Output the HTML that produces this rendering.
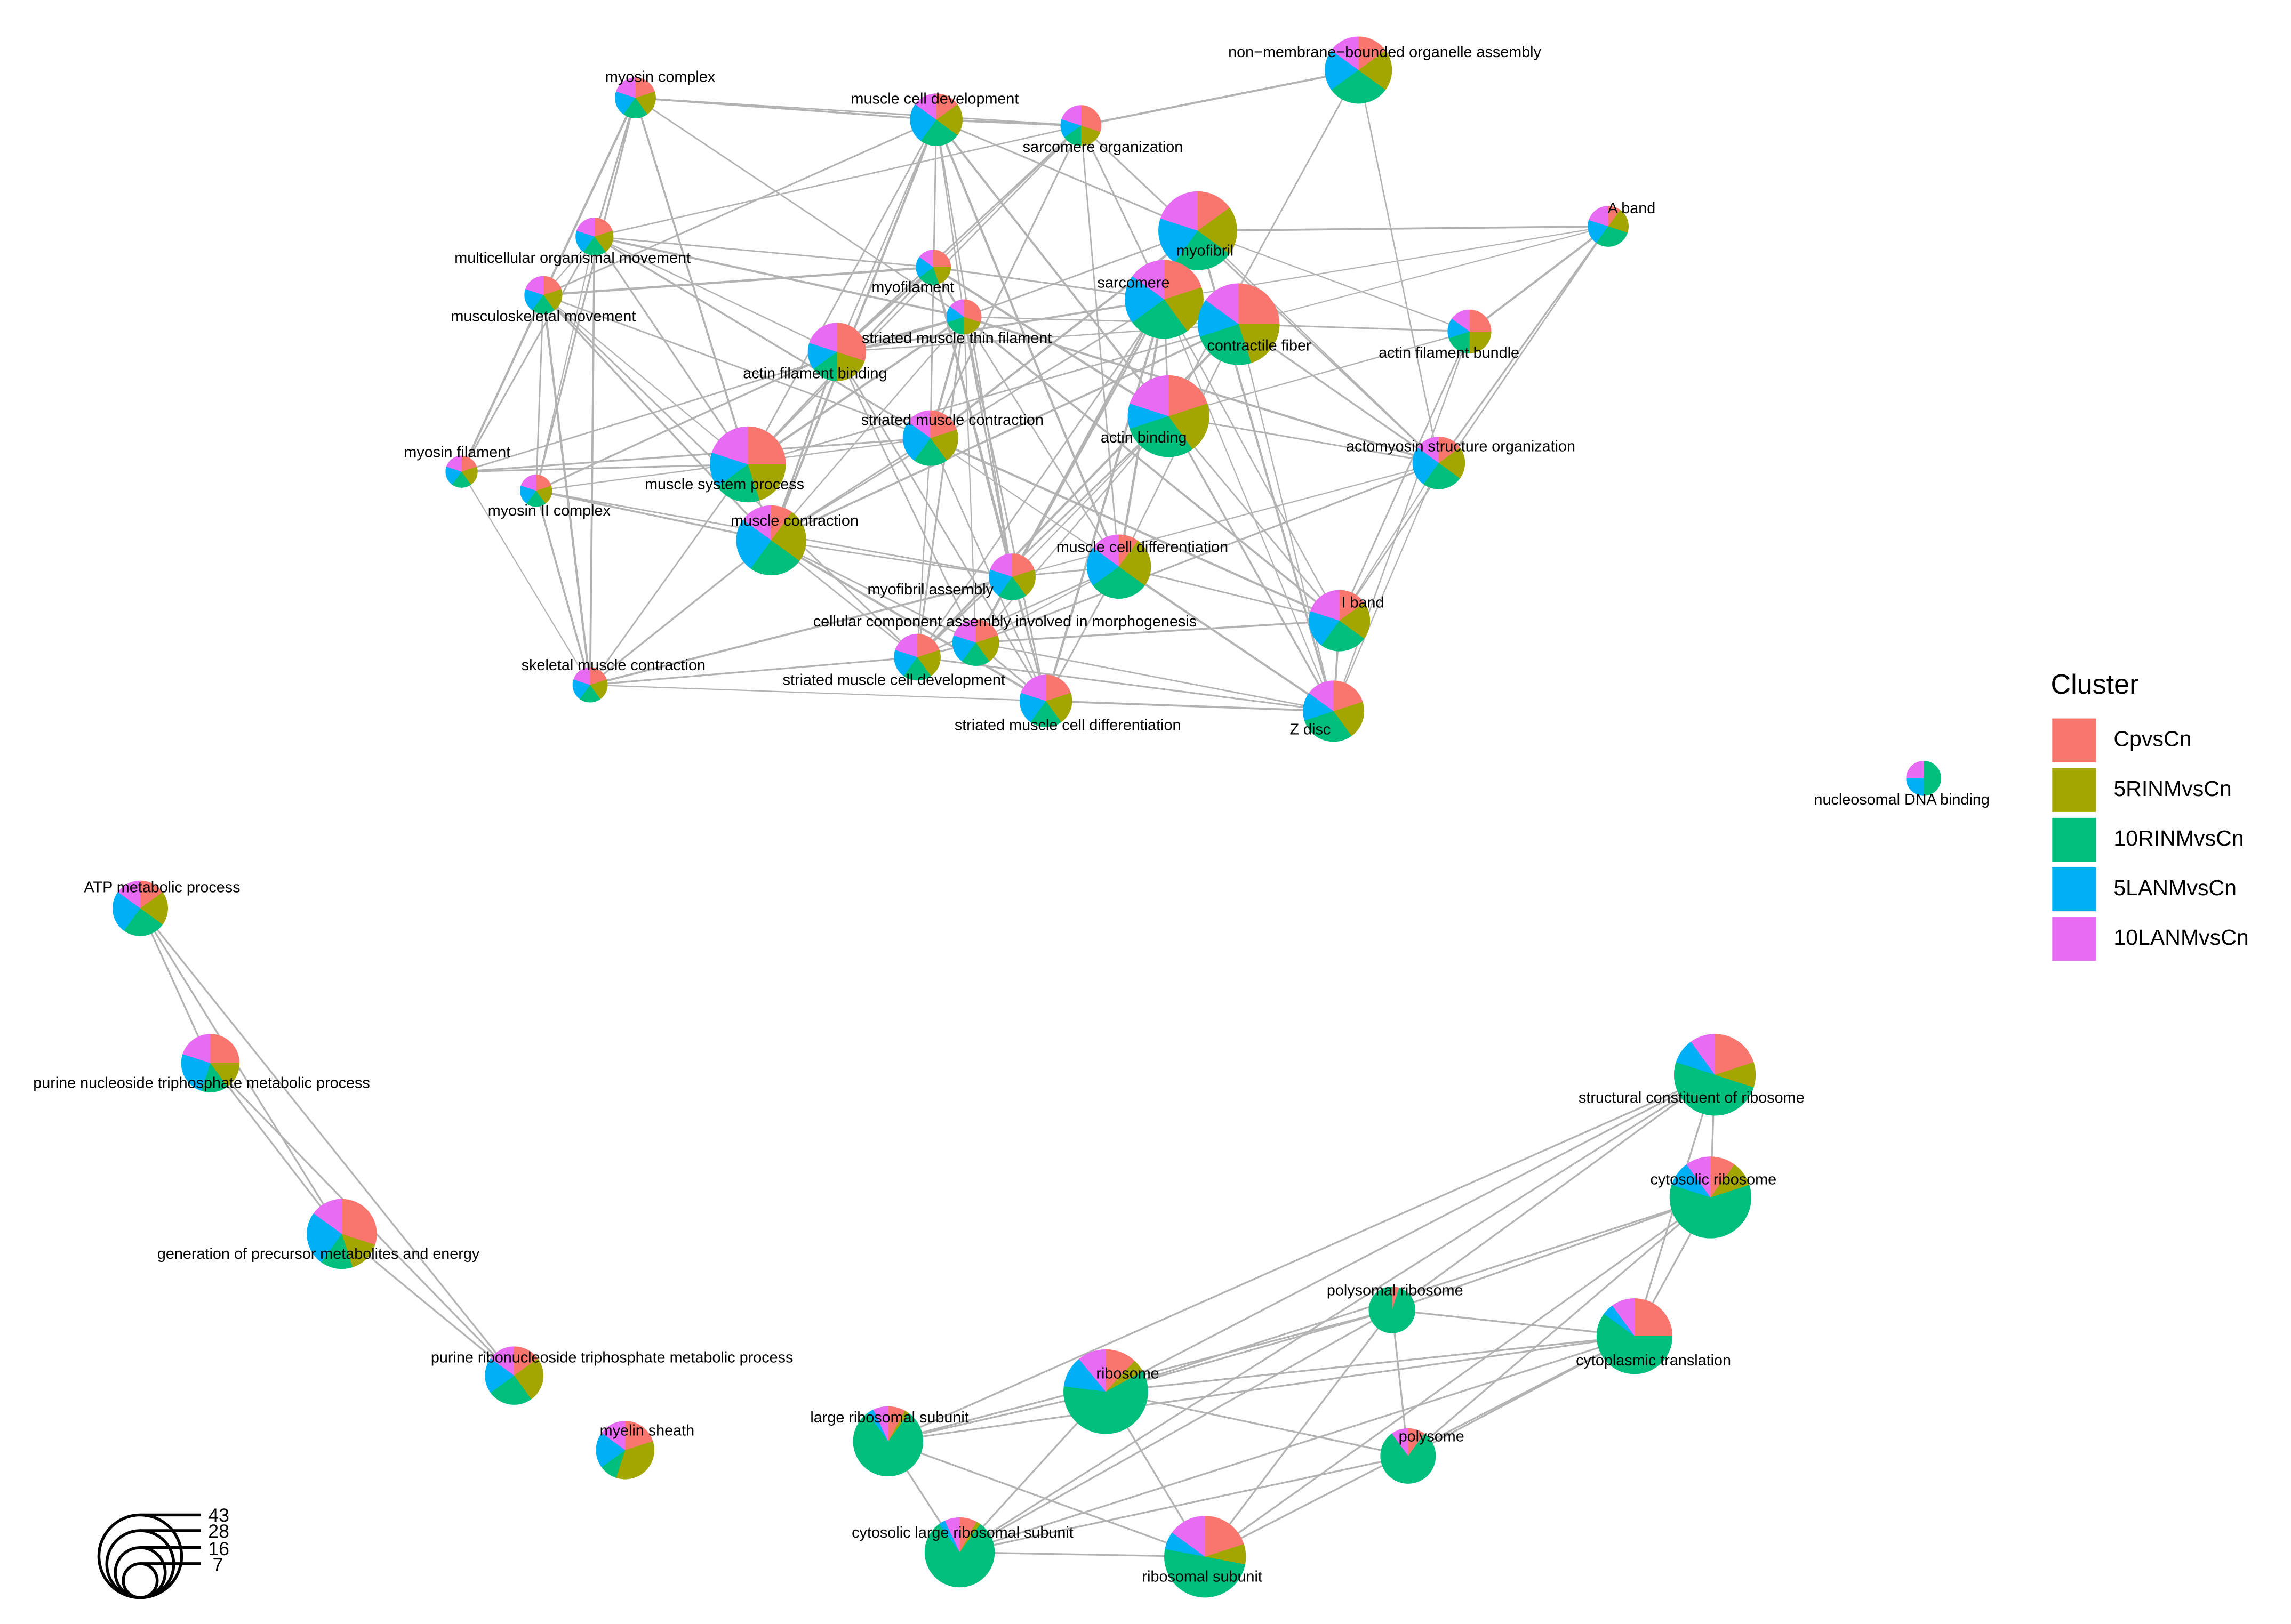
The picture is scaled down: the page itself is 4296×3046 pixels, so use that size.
<!DOCTYPE html>
<html><head><meta charset="utf-8"><style>
html,body{margin:0;padding:0;background:#fff;}
#wrap{position:absolute;left:0;top:0;width:1570px;height:1112px;transform:scale(2.739);transform-origin:0 0;font-family:"Liberation Sans",sans-serif;overflow:hidden;}
.n{position:absolute;border-radius:50%;}
.l{position:absolute;font-size:10.5px;color:#000;white-space:nowrap;transform:translate(-50%,-50%);}
svg{position:absolute;left:0;top:0;}
</style></head><body><div id="wrap">
<svg id="edges" width="1570" height="1112"></svg>
<div id="nodes"></div>
<div style="position:absolute;left:1404px;top:459px;font-size:19px">Cluster</div>
<div style="position:absolute;left:1405px;top:492px;width:30px;height:30px;background:#F8766D"></div>
<div style="position:absolute;left:1405px;top:526px;width:30px;height:30px;background:#A3A500"></div>
<div style="position:absolute;left:1405px;top:560px;width:30px;height:30px;background:#00BF7D"></div>
<div style="position:absolute;left:1405px;top:594px;width:30px;height:30px;background:#00B0F6"></div>
<div style="position:absolute;left:1405px;top:628px;width:30px;height:30px;background:#E76BF3"></div>
<div style="position:absolute;left:1447px;top:498px;font-size:15px">CpvsCn</div>
<div style="position:absolute;left:1447px;top:532px;font-size:15px">5RINMvsCn</div>
<div style="position:absolute;left:1447px;top:566px;font-size:15px">10RINMvsCn</div>
<div style="position:absolute;left:1447px;top:600px;font-size:15px">5LANMvsCn</div>
<div style="position:absolute;left:1447px;top:634px;font-size:15px">10LANMvsCn</div>
<svg width="1570" height="1112" style="pointer-events:none">
<g transform="translate(0.5,6)">
<g fill="none" stroke="#000" stroke-width="2">
<circle cx="95.5" cy="1059.7" r="28.3"/><circle cx="95.5" cy="1065.1" r="22.9"/><circle cx="95.5" cy="1070.9" r="17.1"/><circle cx="95.5" cy="1076.4" r="11.6"/>
<line x1="95.5" y1="1031.4" x2="137" y2="1031.4"/><line x1="95.5" y1="1042.2" x2="137" y2="1042.2"/><line x1="95.5" y1="1053.8" x2="137" y2="1053.8"/><line x1="95.5" y1="1064.8" x2="137" y2="1064.8"/>
</g>
<g font-size="13" font-family="Liberation Sans,sans-serif"><text x="142" y="1036">43</text><text x="142" y="1047">28</text><text x="142" y="1059">16</text><text x="145" y="1070">7</text></g>
</g>
</svg>
</div>
<script>
var C=['#F8766D','#A3A500','#00BF7D','#00B0F6','#E76BF3'];
var N=[
['myosin complex',435,67,14,452,53,[.2,.2,.2,.2,.2],0],
['muscle cell development',641,82,18,640,68,[.15,.2,.25,.25,.15],0],
['sarcomere organization',740,86,14,755,101,[.3,.2,.15,.15,.2],0],
['non\u2212membrane\u2212bounded organelle assembly',930,48,23,948,36,[.15,.2,.3,.2,.15],0],
['myofibril',820,158,27,825,172,[.15,.2,.25,.2,.2],0],
['A band',1101,155,14,1117,143,[.1,.2,.3,.2,.2],0],
['multicellular organismal movement',407,162,13,392,177,[.2,.2,.2,.2,.2],0],
['musculoskeletal movement',372,202,13,372,217,[.2,.2,.2,.2,.2],0],
['myofilament',639,183,12,625,197,[.25,.2,.2,.2,.15],0],
['sarcomere',797,205,27,776,194,[.2,.2,.25,.2,.15],0],
['striated muscle thin filament',660,217,12,655,232,[.3,.2,.2,.15,.15],0],
['contractile fiber',848,222,28,862,237,[.25,.2,.25,.15,.15],0],
['actin filament bundle',1006,227,15,992,242,[.25,.25,.2,.15,.15],0],
['actin filament binding',573,241,20,558,256,[.3,.2,.15,.15,.2],0],
['striated muscle contraction',637,300,19,652,288,[.2,.2,.2,.25,.15],0],
['actin binding',800,285,28,783,300,[.2,.2,.3,.1,.2],0],
['actomyosin structure organization',985,317,18,1000,306,[.15,.2,.25,.25,.15],0],
['myosin filament',316,323,11,313,310,[.2,.2,.2,.2,.2],0],
['muscle system process',512,318,26,496,332,[.25,.2,.2,.15,.2],0],
['myosin II complex',367,336,11,376,350,[.2,.2,.2,.2,.2],0],
['muscle contraction',528,370,24,544,357,[.1,.25,.25,.25,.15],0],
['muscle cell differentiation',766,388,22,782,375,[.1,.25,.3,.2,.15],0],
['myofibril assembly',693,395,16,637,404,[.2,.2,.2,.2,.2],0],
['cellular component assembly involved in morphogenesis',668,440,16,688,426,[.2,.2,.2,.2,.2],0],
['I band',917,425,21,933,413,[.15,.2,.25,.2,.2],0],
['striated muscle cell development',628,450,16,612,466,[.2,.2,.2,.2,.2],0],
['skeletal muscle contraction',404,469,12,420,456,[.2,.2,.2,.2,.2],0],
['striated muscle cell differentiation',716,480,18,731,497,[.2,.2,.2,.2,.2],0],
['Z disc',913,487,21,897,500,[.2,.2,.3,.15,.15],0],
['nucleosomal DNA binding',1317,533,12,1302,548,[0,0,.5,.25,.25],1],
['ATP metabolic process',96,622,19,111,608,[.15,.2,.25,.25,.15],2],
['purine nucleoside triphosphate metabolic process',144,728,20,138,742,[.25,.15,.15,.25,.2],2],
['generation of precursor metabolites and energy',234,845,24,218,859,[.3,.15,.15,.25,.15],2],
['purine ribonucleoside triphosphate metabolic process',352,942,20,419,930,[.15,.25,.25,.2,.15],2],
['myelin sheath',428,993,20,443,980,[.2,.35,.1,.2,.15],3],
['structural constituent of ribosome',1174,736,28,1158,752,[.2,.1,.5,.1,.1],4],
['cytosolic ribosome',1171,820,28,1173,808,[.1,.1,.6,.1,.1],4],
['polysomal ribosome',953,897,16,955,884,[.05,0,.95,0,0],4],
['cytoplasmic translation',1119,915,26,1132,932,[.25,0,.6,.05,.1],4],
['ribosome',757,953,29,772,941,[.12,.05,.6,.12,.11],4],
['large ribosomal subunit',608,987,24,609,971,[.08,.02,.8,.03,.07],4],
['polysome',964,997,19,980,984,[.1,0,.8,0,.1],4],
['cytosolic large ribosomal subunit',657,1063,24,659,1050,[.08,.02,.8,.03,.07],4],
['ribosomal subunit',825,1066,28,823,1080,[.2,.08,.5,.07,.15],4]
];
var svg=document.getElementById('edges'),h='';
function ln(a,b,w){h+='<line x1="'+a[1]+'" y1="'+a[2]+'" x2="'+b[1]+'" y2="'+b[2]+'" stroke="#b3b3b3" stroke-width="'+w+'"/>';}
var seed=7;function rnd(){seed=(seed*9301+49297)%233280;return seed/233280;}
for(var i=0;i<N.length;i++)for(var j=i+1;j<N.length;j++){
 var a=N[i],b=N[j];if(a[7]!=b[7])continue;
 var d=Math.hypot(a[1]-b[1],a[2]-b[2]);
 if(a[7]==0){ if(d<360&&rnd()<0.55)ln(a,b,0.8+rnd()*0.8);}
 else if(a[7]==2||a[7]==4){ if(rnd()<0.8)ln(a,b,1.2);}
}
svg.innerHTML=h;
var nh='';
N.forEach(function(n){var f=n[6],acc=0,st=[];for(var k=0;k<5;k++){var s=acc*360;acc+=f[k];st.push(C[k]+' '+s+'deg '+(acc*360)+'deg');}
nh+='<div class="n" style="left:'+(n[1]-n[3])+'px;top:'+(n[2]-n[3])+'px;width:'+(2*n[3])+'px;height:'+(2*n[3])+'px;background:conic-gradient('+st.join(',')+')"></div>';});
N.forEach(function(n){nh+='<div class="l" style="left:'+n[4]+'px;top:'+n[5]+'px">'+n[0]+'</div>';});
document.getElementById('nodes').innerHTML=nh;
</script>
</body></html>
